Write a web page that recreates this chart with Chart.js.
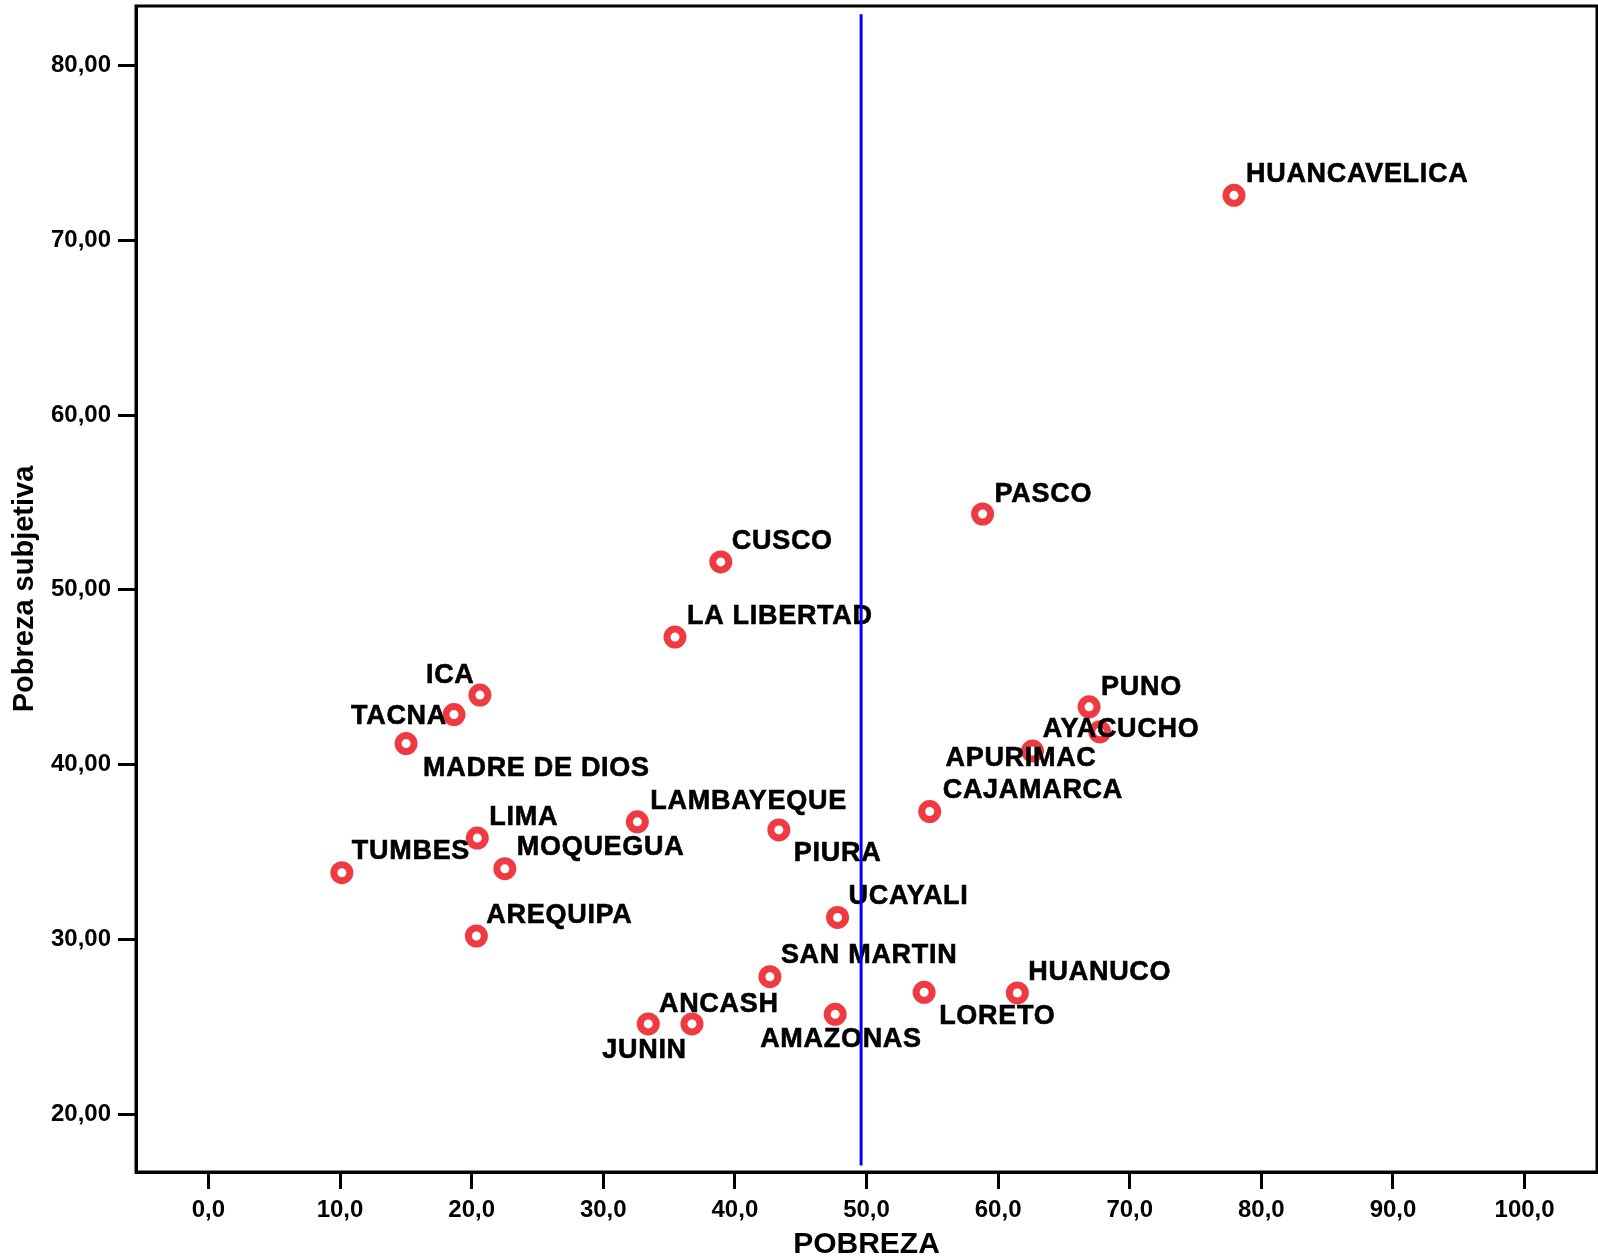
<!DOCTYPE html>
<html>
<head>
<meta charset="utf-8">
<script src="https://cdn.jsdelivr.net/npm/chart.js@4"></script>
<style>
    html, body { margin: 0; padding: 0; background: #fff; }
    #wrap { width: 1598px; height: 1260px; }
</style>
</head>
<body>
<div id="wrap"><canvas id="scatterChart" width="1598" height="1260"></canvas></div>
<script>
// departamentos y sus valores
const departamentos = ['HUANCAVELICA', 'PASCO', 'CUSCO', 'LA LIBERTAD', 'ICA', 'TACNA', 'MADRE DE DIOS',
    'PUNO', 'AYACUCHO', 'APURIMAC', 'CAJAMARCA', 'LAMBAYEQUE', 'PIURA', 'LIMA', 'MOQUEGUA', 'TUMBES',
    'UCAYALI', 'AREQUIPA', 'SAN MARTIN', 'LORETO', 'HUANUCO', 'AMAZONAS', 'JUNIN', 'ANCASH'];
const pobreza = [77.92, 58.82, 38.93, 35.45, 20.63, 18.66, 15.02,
    66.91, 67.72, 62.61, 54.80, 32.59, 43.34, 20.43, 22.52, 10.14,
    47.80, 20.36, 42.66, 54.38, 61.46, 47.62, 33.42, 36.74];
const pobrezaSubjetiva = [72.57, 54.34, 51.60, 47.30, 43.98, 42.87, 41.21,
    43.31, 41.88, 40.78, 37.32, 36.73, 36.27, 35.80, 34.05, 33.82,
    31.26, 30.20, 27.87, 26.98, 26.94, 25.72, 25.17, 25.17];

// linea de referencia (promedio de pobreza)
const refLineX = [49.59, 49.59];
const refLineY = [17.07, 82.93];

// ticks
const xTicks = [0, 10, 20, 30, 40, 50, 60, 70, 80, 90, 100];
const yTicks = [20, 30, 40, 50, 60, 70, 80];

// label placement relative to marker (px): [dx, dy of text center]
const labelOffsets = [
    [12, -23], [12, -22], [11, -23], [12, -23], [-54, -22], [-103, 0], [17, 23],
    [12, -21], [-57, -4], [-87, 5], [13, -23], [13, -22], [15, 22], [12, -23], [12, -23], [10, -23],
    [11, -23], [10, -23], [11, -23], [15, 22], [11, -23], [-75, 23], [-46, 24], [-33, -22]
];

const FONT = '"Liberation Sans", Arial, sans-serif';

const pointLabels = {
    id: 'pointLabels',
    afterDatasetDraw(chart, args) {
        if (args.index !== 1) return;
        const ctx = chart.ctx;
        const meta = chart.getDatasetMeta(1);
        ctx.save();
        ctx.font = 'bold 27px ' + FONT;
        ctx.letterSpacing = '0.7px';
        ctx.fillStyle = '#000';
        ctx.strokeStyle = '#000';
        ctx.lineWidth = 0.6;
        ctx.textAlign = 'left';
        ctx.textBaseline = 'alphabetic';
        meta.data.forEach((pt, i) => {
            const [dx, dy] = labelOffsets[i];
            ctx.fillText(departamentos[i], pt.x + dx, pt.y + dy + 9.6);
            ctx.strokeText(departamentos[i], pt.x + dx, pt.y + dy + 9.6);
        });
        ctx.restore();
    }
};

const frame = {
    id: 'frame',
    afterDraw(chart) {
        const { ctx, chartArea } = chart;
        ctx.save();
        ctx.strokeStyle = '#000';
        ctx.lineWidth = 3;
        ctx.strokeRect(chartArea.left, chartArea.top, chartArea.right - chartArea.left, chartArea.bottom - chartArea.top);
        ctx.restore();
    }
};

const commaFmt = (v, d) => v.toFixed(d).replace('.', ',');

const ctx = document.getElementById('scatterChart').getContext('2d');
new Chart(ctx, {
    type: 'scatter',
    data: {
        datasets: [
            {
                type: 'line',
                label: 'ref',
                data: refLineX.map((x, i) => ({ x: x, y: refLineY[i] })),
                borderColor: '#0000ff',
                borderWidth: 3,
                pointRadius: 0,
                fill: false
            },
            {
                label: 'Departamentos',
                data: pobreza.map((x, i) => ({ x: x, y: pobrezaSubjetiva[i] })),
                pointStyle: 'circle',
                pointRadius: 8,
                pointHoverRadius: 8,
                borderWidth: 7,
                pointBorderWidth: 7,
                borderColor: '#ef3a42',
                backgroundColor: '#ffffff'
            }
        ]
    },
    options: {
        responsive: false,
        animation: false,
        devicePixelRatio: 1,
        layout: { autoPadding: false, padding: { top: 6, right: 1, left: 0, bottom: 0 } },
        plugins: {
            legend: { display: false },
            tooltip: { enabled: false }
        },
        scales: {
            x: {
                type: 'linear',
                position: 'bottom',
                min: -5.5,
                max: 105.5,
                afterBuildTicks: scale => { scale.ticks = xTicks.map(v => ({ value: v })); },
                afterFit: scale => {
                    scale.height = 88;
                    scale.paddingLeft = 0;
                    scale.paddingRight = 0;
                },
                ticks: {
                    color: '#000',
                    font: { family: FONT, size: 24, weight: 'bold' },
                    padding: 7,
                    maxRotation: 0,
                    callback: v => commaFmt(v, 1)
                },
                grid: { drawOnChartArea: false, drawTicks: true, tickLength: 17, tickWidth: 3, tickColor: '#000' },
                border: { display: true, color: '#000', width: 3 },
                title: {
                    display: true,
                    text: 'POBREZA',
                    color: '#000',
                    font: { family: FONT, size: 30, weight: 'bold', lineHeight: 1 },
                    padding: { top: 0, bottom: 0 }
                }
            },
            y: {
                type: 'linear',
                min: 16.7,
                max: 83.4,
                afterBuildTicks: scale => { scale.ticks = yTicks.map(v => ({ value: v })); },
                afterFit: scale => {
                    scale.width = 136;
                    scale.paddingTop = 0;
                    scale.paddingBottom = 0;
                },
                ticks: {
                    color: '#000',
                    font: { family: FONT, size: 24, weight: 'bold' },
                    padding: 7,
                    callback: v => commaFmt(v, 2)
                },
                grid: { drawOnChartArea: false, drawTicks: true, tickLength: 18, tickWidth: 3, tickColor: '#000' },
                border: { display: true, color: '#000', width: 3 },
                title: {
                    display: true,
                    text: 'Pobreza subjetiva',
                    color: '#000',
                    font: { family: FONT, size: 29, weight: 'bold', lineHeight: 1 },
                    padding: { top: 10, bottom: 0 }
                }
            }
        }
    },
    plugins: [pointLabels, frame]
});
</script>
</body>
</html>
